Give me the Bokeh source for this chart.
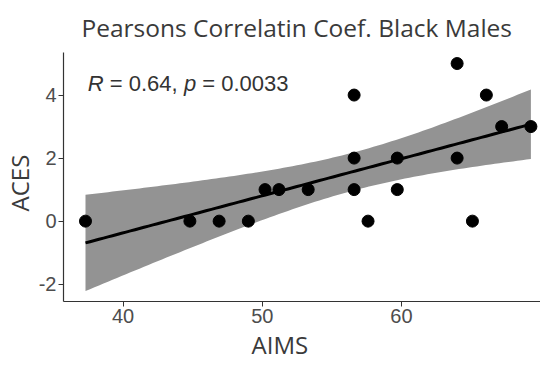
import numpy as np
from bokeh.plotting import figure
from bokeh.models import Label, Range1d, FixedTicker, Title
from bokeh.embed import file_html
from bokeh.resources import INLINE

# Data
aims = [37.3, 44.8, 46.9, 49.0, 50.2, 51.2, 53.3, 56.6, 56.6, 56.6, 57.6,
        59.7, 59.7, 64.0, 64.0, 65.1, 66.1, 67.2, 69.3]
aces = [0, 0, 0, 0, 1, 1, 1, 4, 2, 1, 0,
        2, 1, 5, 2, 0, 4, 3, 3]
x_ticks = [40, 50, 60]
y_ticks = [-2, 0, 2, 4]
title_text = "Pearsons Correlatin Coef. Black Males"
x_label = "AIMS"
y_label = "ACES"
r_text = "0.64"
p_text = "0.0033"
T975_DF17 = 2.1098  # t quantile for 95% CI, df = n - 2

x = np.array(aims, dtype=float)
y = np.array(aces, dtype=float)
n = len(x)
xm, ym = x.mean(), y.mean()
sxx = ((x - xm) ** 2).sum()
slope = ((x - xm) * (y - ym)).sum() / sxx
icpt = ym - slope * xm
resid = y - (icpt + slope * x)
s = np.sqrt((resid ** 2).sum() / (n - 2))
xs = np.linspace(x.min(), x.max(), 100)
fit = icpt + slope * xs
se = s * np.sqrt(1.0 / n + (xs - xm) ** 2 / sxx)
lo = fit - T975_DF17 * se
hi = fit + T975_DF17 * se

TF = "Open Sans"
p = figure(width=540, height=360, output_backend="svg", toolbar_location=None,
           x_range=Range1d(35.72, 69.99), y_range=Range1d(-2.55, 5.35),
           min_border_left=0, min_border_right=0, min_border_top=0,
           min_border_bottom=0)
p.outline_line_color = None
p.xgrid.visible = False
p.ygrid.visible = False
p.background_fill_color = "white"
p.border_fill_color = "white"

p.title.text = title_text
p.title.text_font = TF
p.title.text_font_size = "24.5px"
p.title.text_font_style = "normal"
p.title.text_color = "#3a3a3a"
p.title.align = "left"
p.title.offset = 18
p.title.standoff = 17

p.varea(x=xs, y1=lo, y2=hi, fill_color="#939393", fill_alpha=1.0)
p.line(xs, fit, line_color="black", line_width=3)
p.scatter(x, y, size=12, fill_color="black", line_color="black")

for ax, ticks in ((p.xaxis[0], x_ticks), (p.yaxis[0], y_ticks)):
    ax.ticker = FixedTicker(ticks=ticks)
    ax.major_label_overrides = {t: str(t) for t in ticks}
    ax.minor_tick_line_color = None
    ax.major_tick_in = 0
    ax.major_tick_out = 5
    ax.major_tick_line_color = "#333333"
    ax.axis_line_color = "#333333"
    ax.axis_line_width = 1.2
    ax.major_label_text_font = "Liberation Sans"
    ax.major_label_text_font_size = "20px"
    ax.major_label_text_color = "#4d4d4d"
    ax.major_label_standoff = 2

p.add_layout(Title(text=x_label, text_font=TF, text_font_size="24px",
                   text_font_style="normal", text_color="#3a3a3a",
                   text_line_height=0.8,
                   align="left", offset=188, standoff=0), "below")
p.add_layout(Title(text=y_label, text_font=TF, text_font_size="24px",
                   text_font_style="normal", text_color="#3a3a3a",
                   align="left", offset=90, standoff=0), "left")

AF = "Liberation Sans"
parts = [("R", "italic", 0), ("= " + r_text + ",", "normal", 22.0),
         ("p", "italic", 96.3), ("= " + p_text, "normal", 114.5)]
for txt, style, off in parts:
    p.add_layout(Label(x=37.46, y=4.38, x_offset=off, text=txt, text_font=AF,
                       text_font_size="22px", text_font_style=style,
                       text_color="#333333", text_baseline="alphabetic"))

open("out.html", "w").write(file_html(p, INLINE))
